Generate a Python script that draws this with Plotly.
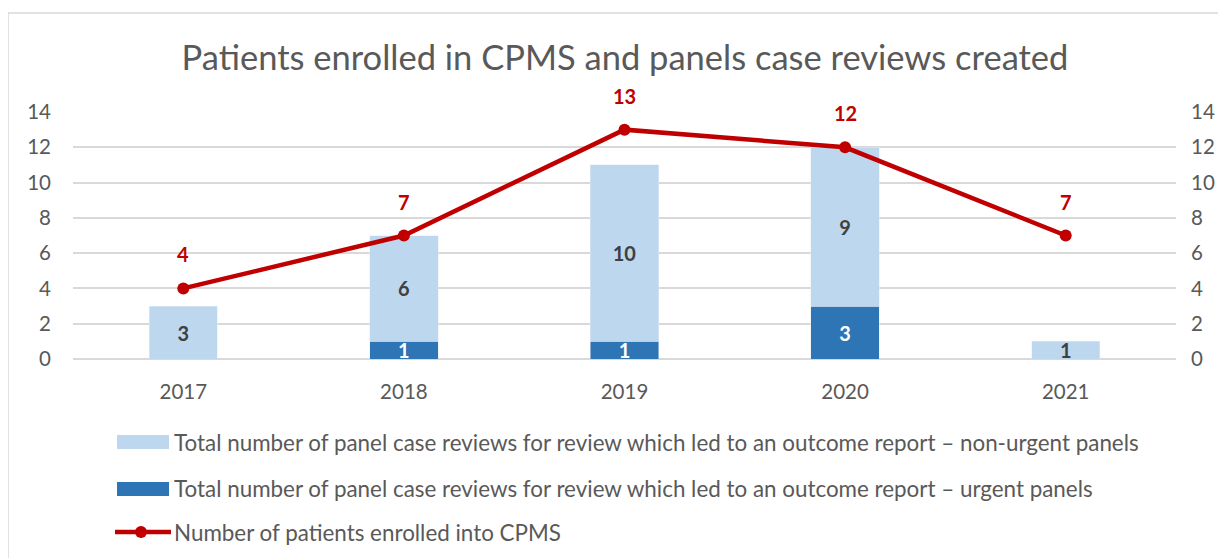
import plotly.graph_objects as go

years = ["2017", "2018", "2019", "2020", "2021"]
urgent = [None, 1, 1, 3, None]
non_urgent = [3, 6, 10, 9, 1]
patients = [4, 7, 13, 12, 7]
name_nonurgent = "Total number of panel case reviews for review which led to an outcome report – non-urgent panels"
name_urgent = "Total number of panel case reviews for review which led to an outcome report – urgent panels"
name_patients = "Number of patients enrolled into CPMS"

FONT = "Lato"
GREY = "#595959"
RED = "#C00000"
LIGHT = "#BDD7EE"
DARK = "#2E75B6"

fig = go.Figure()
fig.add_trace(go.Bar(x=years, y=urgent, name=name_urgent, marker_color=DARK,
                     text=urgent, textposition="inside", insidetextanchor="middle",
                     textangle=0, constraintext="none",
                     textfont=dict(color="white", size=20, family=FONT, weight="bold"),
                     width=0.31, showlegend=False))
fig.add_trace(go.Bar(x=years, y=non_urgent, name=name_nonurgent, marker_color=LIGHT,
                     text=non_urgent, textposition="inside", insidetextanchor="middle",
                     textangle=0, constraintext="none",
                     textfont=dict(color="#404040", size=20, family=FONT, weight="bold"),
                     width=0.31, showlegend=False))
fig.add_trace(go.Scatter(x=years, y=patients, name=name_patients, mode="lines+markers", yaxis="y2",
                         line=dict(color=RED, width=4.5), marker=dict(color=RED, size=12),
                         showlegend=False, cliponaxis=False))
for i, v in enumerate(patients):
    fig.add_annotation(x=i, y=v, xref="x", yref="y", text=f"<b>{v}</b>", showarrow=False, yshift=34,
                       font=dict(color=RED, size=20, family=FONT))

# page has an 8px body margin: target pixel coords are shifted by -8
OFF = 8
W, H = 1226 - OFF, 558 - OFF
L, T = 73 - OFF, 112 - OFF
R = W - (1176 - OFF)
B = H - (359 - OFF)
pw, ph = W - L - R, H - T - B

def px(x):
    return (x - OFF - L) / pw

def py(y):
    return (H - B - (y - OFF)) / ph

# border
fig.add_shape(type="rect", xref="paper", yref="paper", x0=px(8), x1=px(1260), y0=py(13), y1=py(600),
              line=dict(color="#D9D9D9", width=1.5), fillcolor="rgba(0,0,0,0)", layer="below")

# manual legend
LEG = 22.4
rows = [(442, LIGHT, name_nonurgent), (489, DARK, name_urgent)]
for yc, col, nm in rows:
    fig.add_shape(type="rect", xref="paper", yref="paper", x0=px(117), x1=px(169),
                  y0=py(yc + 7), y1=py(yc - 7), fillcolor=col, line=dict(width=0))
    fig.add_annotation(xref="paper", yref="paper", x=px(172), y=py(yc), text=nm, showarrow=False,
                       xanchor="left", yanchor="middle", font=dict(size=LEG, color=GREY, family=FONT))
fig.add_shape(type="line", xref="paper", yref="paper", x0=px(115), x1=px(171), y0=py(532), y1=py(532),
              line=dict(color=RED, width=4.5))
fig.add_shape(type="circle", xref="paper", yref="paper", x0=px(135), x1=px(147), y0=py(538), y1=py(526),
              fillcolor=RED, line=dict(color=RED, width=0))
fig.add_annotation(xref="paper", yref="paper", x=px(172), y=py(532), text=name_patients, showarrow=False,
                   xanchor="left", yanchor="middle", font=dict(size=LEG, color=GREY, family=FONT))

TICK = 20.5
fig.update_layout(
    width=W, height=H, margin=dict(l=L, r=R, t=T, b=B, autoexpand=False),
    barmode="stack", plot_bgcolor="white", paper_bgcolor="white",
    font=dict(family=FONT, color=GREY, size=TICK),
    title=dict(text="Patients enrolled in CPMS and panels case reviews created",
               x=(625 - OFF) / W, xanchor="center",
               y=1 - (58 - OFF) / H, yanchor="middle", font=dict(size=34.5, color=GREY, family=FONT)),
    xaxis=dict(type="category", categoryorder="array", categoryarray=years, range=[-0.5, 4.5],
               automargin=False,
               showline=False, ticks="", tickfont=dict(size=TICK, color=GREY), ticklabelstandoff=18),
    yaxis=dict(range=[0, 14], dtick=2, showgrid=True, gridcolor="#D9D9D9", gridwidth=1.5,
               automargin=False,
               zeroline=True, zerolinecolor="#D9D9D9", zerolinewidth=1.5, showline=False,
               tickfont=dict(size=TICK, color=GREY), ticklabelstandoff=21),
    yaxis2=dict(range=[0, 14], dtick=2, overlaying="y", side="right", showgrid=False, zeroline=False,
                automargin=False,
                tickfont=dict(size=TICK, color=GREY), ticklabelstandoff=14),
)

fig.write_html("out.html")
